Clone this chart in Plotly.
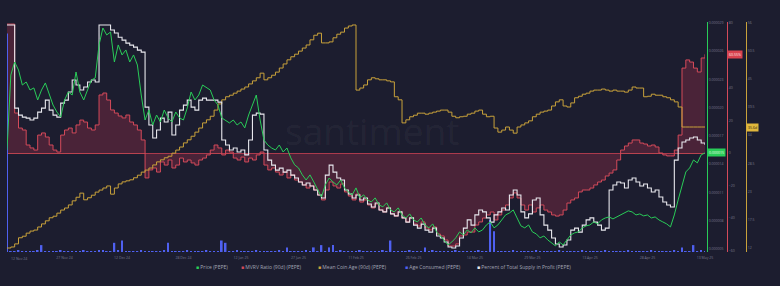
import pandas as pd
import plotly.graph_objects as go

# ---------------- data (daily, 12 Nov 2024 -> 13 May 2025) ----------------
dates = pd.date_range("2024-11-12", periods=183, freq="D")

# Price (PEPE) in micro-USD
price_micro = [
    15.50, 23.45, 24.83, 23.98, 22.39, 22.71, 21.86, 22.08, 20.80, 21.86,
    22.61, 21.33, 20.27, 19.53, 19.00, 20.80, 21.65, 21.33, 23.77, 21.65,
    20.80, 21.86, 22.92, 23.14, 26.64, 28.44, 27.70, 28.01, 24.83, 26.64,
    25.58, 26.11, 24.83, 25.58, 24.51, 21.33, 18.68, 19.74, 18.15, 19.21,
    18.47, 19.74, 18.90, 18.47, 19.53, 18.90, 18.68, 19.96, 21.65, 20.80,
    21.33, 22.39, 22.08, 21.86, 20.80, 20.27, 18.90, 18.68, 18.37, 18.68,
    18.15, 18.47, 17.84, 19.21, 20.27, 21.33, 18.68, 16.56, 16.03, 15.71,
    15.50, 16.03, 15.29, 15.71, 14.66, 13.92, 13.60, 12.86, 12.32, 12.86,
    12.11, 11.26, 10.52, 11.79, 12.53, 12.11, 11.79, 12.32, 11.48, 11.05,
    10.74, 11.48, 10.42, 10.74, 10.20, 9.99, 10.42, 9.68, 9.47, 9.89,
    9.14, 8.93, 9.36, 8.61, 8.29, 8.72, 8.08, 7.87, 8.29, 7.55,
    7.24, 7.66, 6.81, 6.38, 5.96, 5.43, 5.75, 6.18, 6.81, 6.49,
    7.02, 6.71, 7.24, 6.81, 7.02, 7.55, 7.87, 7.24, 7.55, 8.08,
    8.61, 8.82, 9.14, 8.29, 7.45, 7.24, 7.55, 6.81, 6.60, 6.18,
    6.38, 5.96, 5.64, 5.33, 5.75, 5.43, 5.96, 6.49, 6.71, 6.81,
    7.24, 7.45, 7.55, 7.87, 7.66, 8.08, 8.29, 8.40, 8.19, 8.40,
    8.61, 8.82, 9.04, 8.93, 8.61, 8.72, 8.51, 8.61, 8.29, 8.40,
    8.08, 7.87, 7.66, 7.34, 8.61, 10.20, 11.79, 13.17, 13.60, 14.44,
    14.13, 14.98, 15.19,
]

# MVRV Ratio (90d), %
mvrv = [
    79.1, 79.1, 24.5, 15.3, 14.1, 4.9, 3.1, 1.8, 11.0, 12.3,
    9.8, 4.9, 1.8, 0.6, 11.0, 14.1, 15.3, 12.3, 17.2, 20.2,
    19.0, 15.3, 14.1, 17.2, 35.6, 36.8, 32.5, 26.4, 24.5, 22.7,
    21.5, 23.3, 19.0, 17.2, 14.1, 8.0, -15.3, -10.4, -9.2, -11.7,
    -5.5, -7.4, -4.3, -9.2, -7.4, -3.1, -5.5, -4.3, -6.1, -7.4,
    -4.3, -3.1, -1.2, 1.8, 4.9, 3.1, -1.2, 1.8, 0.6, -3.1,
    -4.3, -2.5, -5.5, -3.1, -4.3, -1.2, 0.6, -7.4, -10.4, -9.2,
    -11.7, -13.5, -11.7, -15.3, -13.5, -16.6, -17.8, -19.6, -21.5, -20.2,
    -22.7, -25.8, -28.8, -22.7, -17.8, -20.2, -21.5, -19.0, -23.9, -26.4,
    -28.8, -25.2, -30.1, -28.8, -31.9, -33.7, -31.3, -35.0, -36.2, -33.7,
    -37.4, -38.7, -36.2, -39.9, -42.3, -39.9, -43.6, -44.8, -42.3, -46.0,
    -47.2, -45.4, -49.7, -50.9, -53.4, -57.1, -57.1, -55.8, -50.9, -50.3,
    -48.5, -48.5, -44.2, -42.3, -39.9, -38.0, -36.2, -41.1, -38.0, -35.0,
    -31.9, -27.6, -24.5, -27.6, -31.9, -35.0, -31.9, -36.2, -33.7, -31.9,
    -35.0, -36.2, -38.0, -38.7, -38.0, -35.0, -30.7, -28.8, -27.6, -23.9,
    -22.7, -22.7, -21.5, -19.6, -17.8, -16.6, -14.1, -12.3, -10.4, -4.3,
    1.8, 4.3, 6.1, 8.0, 8.0, 6.1, 5.5, 4.3, 4.9, 3.7,
    0.0, -1.2, -1.8, -1.8, 1.8, 11.0, 52.1, 57.1, 55.8, 52.1,
    49.7, 58.3, 60.55,
]

# Mean Coin Age (90d), days
coin_age = [
    12.0, 12.2, 12.8, 14.0, 14.3, 14.9, 15.3, 15.5, 16.1, 16.7,
    17.3, 17.9, 18.2, 18.8, 19.4, 19.8, 20.4, 21.2, 21.9, 22.7,
    21.4, 21.8, 22.3, 22.9, 23.3, 23.7, 24.1, 22.5, 23.7, 24.5,
    24.9, 25.1, 25.3, 25.7, 26.2, 26.8, 27.2, 27.6, 28.2, 28.8,
    29.2, 29.6, 29.9, 30.5, 31.1, 31.7, 32.5, 33.1, 33.8, 34.6,
    35.4, 36.4, 37.0, 37.7, 38.9, 40.1, 40.9, 41.5, 41.8, 42.2,
    42.6, 43.0, 43.4, 44.0, 44.6, 45.2, 46.1, 44.8, 45.2, 45.7,
    46.3, 47.1, 47.9, 48.7, 49.3, 49.8, 50.4, 51.0, 51.6, 52.6,
    53.5, 53.9, 52.0, 52.0, 52.2, 53.0, 53.7, 54.1, 54.9, 55.3,
    55.5, 42.8, 43.2, 43.8, 44.8, 45.2, 45.0, 44.8, 44.8, 44.6,
    44.4, 41.5, 40.9, 36.4, 37.0, 37.6, 37.9, 38.3, 38.3, 38.1,
    38.3, 38.5, 38.7, 38.9, 38.9, 38.5, 37.7, 37.4, 37.6, 37.7,
    38.1, 38.3, 38.7, 38.9, 38.1, 37.6, 37.7, 35.4, 34.6, 35.0,
    35.6, 35.0, 34.4, 35.6, 36.0, 36.4, 36.8, 37.6, 38.1, 38.5,
    38.7, 38.9, 39.7, 40.5, 40.9, 39.7, 39.5, 40.3, 41.3, 41.6,
    42.0, 42.2, 42.6, 42.8, 42.8, 43.0, 42.8, 42.6, 42.8, 42.6,
    42.6, 42.4, 42.8, 43.4, 43.2, 43.2, 41.5, 41.6, 42.0, 41.8,
    41.8, 41.5, 41.3, 40.9, 40.5, 39.5, 35.6, 35.6, 35.6, 35.6,
    35.6, 35.6, 35.6,
]

# Age Consumed (PEPE), relative units
age_consumed = [
    95, 0.4, 0.4, 0.5, 0.4, 0.4, 0.3, 0.4, 0.5, 3.0,
    0.4, 0.4, 0.3, 0.4, 0.5, 0.4, 0.4, 0.3, 0.4, 0.4,
    0.5, 0.4, 0.4, 0.3, 0.6, 0.5, 0.4, 0.4, 4.0, 0.5,
    5.0, 0.4, 0.4, 0.3, 0.4, 0.5, 0.4, 0.4, 0.3, 0.4,
    0.4, 0.5, 4.0, 0.4, 0.3, 0.4, 0.4, 0.5, 0.4, 0.3,
    0.4, 0.4, 0.5, 0.4, 0.4, 0.3, 5.0, 4.0, 0.4, 0.4,
    0.5, 0.4, 0.3, 0.4, 0.4, 0.5, 0.4, 0.4, 0.3, 0.4,
    0.4, 0.5, 0.4, 2.0, 0.4, 0.3, 0.4, 0.4, 0.5, 0.4,
    2.0, 0.4, 3.0, 0.4, 2.0, 3.0, 0.4, 0.5, 0.4, 0.3,
    0.4, 0.4, 0.5, 0.4, 0.4, 0.3, 0.4, 0.4, 0.5, 0.4,
    5.0, 0.4, 0.3, 0.4, 0.4, 0.5, 0.4, 0.4, 0.3, 2.0,
    0.4, 0.5, 0.4, 0.4, 0.3, 0.4, 0.4, 0.5, 0.4, 0.4,
    0.3, 0.4, 0.4, 0.5, 0.4, 0.4, 14.0, 9.0, 0.4, 0.3,
    0.4, 0.4, 0.5, 0.4, 0.4, 0.3, 0.4, 0.4, 0.5, 0.4,
    0.4, 0.3, 0.4, 0.4, 0.5, 0.4, 0.4, 0.3, 0.4, 0.4,
    0.5, 0.4, 0.4, 0.3, 0.4, 0.4, 0.5, 0.4, 0.4, 0.3,
    0.4, 0.4, 0.5, 0.4, 0.4, 0.3, 0.4, 0.4, 0.5, 0.4,
    0.4, 0.3, 0.4, 0.4, 0.5, 0.4, 2.0, 0.4, 0.4, 3.0,
    0.4, 0.5, 0.4,
]

# Percent of Total Supply in Profit, %
supply_profit = [
    91.2, 91.2, 57.8, 55.0, 54.2, 53.8, 53.0, 53.8, 56.2, 57.8,
    61.0, 57.0, 55.0, 54.2, 59.8, 61.0, 64.3, 69.1, 67.1, 65.1,
    66.3, 68.3, 69.1, 68.3, 91.2, 91.2, 91.2, 89.2, 88.0, 86.3,
    85.1, 83.9, 83.1, 82.3, 81.1, 80.3, 58.2, 51.0, 45.8, 49.0,
    53.8, 52.2, 56.2, 47.0, 51.0, 57.0, 59.0, 61.0, 58.2, 57.0,
    61.0, 61.8, 61.0, 61.0, 61.0, 60.2, 45.0, 43.0, 41.0, 41.8,
    40.2, 41.0, 39.0, 45.0, 55.0, 55.8, 55.4, 41.0, 36.9, 34.9,
    32.9, 33.7, 32.1, 32.9, 30.9, 29.7, 28.1, 26.9, 27.7, 26.5,
    24.9, 22.9, 21.7, 30.9, 34.9, 32.1, 29.7, 28.9, 24.9, 23.3,
    21.7, 22.9, 20.9, 21.7, 19.3, 18.1, 19.7, 16.9, 16.1, 17.7,
    15.3, 14.5, 16.1, 13.7, 12.0, 13.7, 10.8, 9.6, 11.2, 8.8,
    8.0, 9.6, 6.4, 5.6, 4.0, 2.0, 1.6, 2.4, 5.6, 9.6,
    12.9, 10.8, 14.9, 16.9, 16.1, 13.7, 12.0, 14.9, 16.1, 17.7,
    16.9, 22.9, 24.9, 22.9, 16.1, 13.7, 15.3, 20.9, 21.7, 14.9,
    10.8, 8.8, 5.6, 3.2, 2.0, 2.8, 4.8, 8.8, 9.6, 8.0,
    10.8, 12.9, 13.7, 12.0, 10.8, 8.8, 9.6, 24.9, 26.9, 28.1,
    27.7, 25.7, 28.9, 29.7, 28.1, 26.5, 27.3, 25.7, 24.1, 24.9,
    22.1, 20.1, 18.9, 18.1, 36.9, 41.8, 44.2, 45.0, 45.8, 46.2,
    45.0, 43.8, 43.0,
]

x_tick_dates = ["2024-11-12", "2024-11-27", "2024-12-12", "2024-12-28", "2025-01-12",
                "2025-01-27", "2025-02-11", "2025-02-26", "2025-03-14", "2025-03-29",
                "2025-04-13", "2025-04-28", "2025-05-13"]
x_tick_text = ["12 Nov 24", "27 Nov 24", "12 Dec 24", "28 Dec 24", "12 Jan 25",
               "27 Jan 25", "11 Feb 25", "26 Feb 25", "14 Mar 25", "29 Mar 25",
               "13 Apr 25", "28 Apr 25", "13 May 25"]

price_ticks = [5e-6, 8e-6, 11e-6, 14e-6, 17e-6, 20e-6, 23e-6, 26e-6, 29e-6]
# the 60% tick sits under the current-value marker in the reference, so it is not labelled
mvrv_ticks = [-60, -40, -20, 0, 20, 40, 80]
age_ticks = [12, 17.5, 23, 28.5, 34, 39.5, 45, 50.5, 56]

price = [v * 1e-6 for v in price_micro]

# ---------------- style ----------------
BG = "#1c1d2f"
GREEN = "#29cc58"
RED = "#d44a5a"
YELLOW = "#c9a23b"
BLUE = "#4f60f0"
WHITE = "#e8e8ee"
TICK = "#777a8d"
FONT = "Open Sans"

W, H = 780, 286
ML, MR, MT, MB = 7, 0, 22, 34
PW = W - ML - MR
PH = H - MT - MB

def px(x):
    return (x - ML) / PW

def py(y):
    return (H - MB - y) / PH

X_END = px(705)
POS_GREEN = px(707)
POS_RED = px(727)
POS_YELLOW = px(746)

fig = go.Figure()

fig.add_trace(go.Scatter(
    x=dates, y=mvrv, yaxis="y", mode="lines", line=dict(color=RED, width=1, shape="hv"),
    fill="tozeroy", fillcolor="rgba(150,45,70,0.38)", name="MVRV Ratio (90d) (PEPE)",
    showlegend=False, hoverinfo="skip"))
fig.add_trace(go.Bar(
    x=dates, y=age_consumed, yaxis="y2", marker=dict(color=BLUE, line=dict(width=0)),
    width=0.45 * 86400000, name="Age Consumed (PEPE)", showlegend=False, hoverinfo="skip"))
fig.add_trace(go.Scatter(
    x=dates, y=coin_age, yaxis="y3", mode="lines", line=dict(color=YELLOW, width=1, shape="hv"),
    name="Mean Coin Age (90d) (PEPE)", showlegend=False, hoverinfo="skip"))
fig.add_trace(go.Scatter(
    x=dates, y=supply_profit, yaxis="y4", mode="lines", line=dict(color=WHITE, width=1.1, shape="hv"),
    name="Percent of Total Supply in Profit (PEPE)", showlegend=False, hoverinfo="skip"))
fig.add_trace(go.Scatter(
    x=dates, y=price, yaxis="y5", mode="lines", line=dict(color=GREEN, width=1),
    name="Price (PEPE)", showlegend=False, hoverinfo="skip"))

tickfont = dict(family=FONT, size=3.5, color=TICK)

fig.update_layout(
    width=W, height=H, autosize=False,
    margin=dict(l=ML, r=MR, t=MT, b=MB, autoexpand=False),
    paper_bgcolor=BG, plot_bgcolor=BG,
    font=dict(family=FONT, color=TICK),
    showlegend=False,
    xaxis=dict(
        type="date", domain=[0, X_END], range=["2024-11-12", "2025-05-13"],
        showgrid=False, zeroline=False, showline=False, automargin=False,
        tickmode="array", tickvals=x_tick_dates[1:], ticktext=x_tick_text[1:],
        tickfont=tickfont, ticks="", ticklabelstandoff=2),
    yaxis=dict(
        domain=[0, 1], range=[-60.74, 80.37], side="right", anchor="free", position=POS_RED,
        showline=True, linecolor=RED, linewidth=1, showgrid=False, automargin=False,
        zeroline=True, zerolinecolor="#b9434f", zerolinewidth=1,
        tickmode="array", tickvals=mvrv_ticks, ticksuffix="%", tickfont=tickfont, ticks=""),
    yaxis2=dict(overlaying="y", range=[0, 100], visible=False, automargin=False),
    yaxis3=dict(
        overlaying="y", range=[11.22, 56.08], side="right", anchor="free", position=POS_YELLOW,
        showline=True, linecolor=YELLOW, linewidth=1, showgrid=False, zeroline=False, automargin=False,
        tickmode="array", tickvals=age_ticks, ticksuffix="d", tickfont=tickfont, ticks=""),
    yaxis4=dict(overlaying="y", range=[0, 92.4], visible=False, automargin=False),
    yaxis5=dict(
        overlaying="y", range=[4.68e-6, 29.074e-6], side="right", anchor="free", position=POS_GREEN,
        showline=True, linecolor=GREEN, linewidth=1, showgrid=False, zeroline=False, automargin=False,
        tickmode="array", tickvals=price_ticks, tickformat=".6f", tickfont=tickfont, ticks=""),
)

# first date label sits at the left edge: drawn left-aligned at its tick so it stays on the page
fig.add_annotation(
    text=x_tick_text[0], xref="x", x=x_tick_dates[0], yref="paper", y=0,
    xanchor="left", yanchor="top", xshift=2, yshift=-1.5, showarrow=False,
    font=tickfont)

# watermark
fig.add_annotation(
    text="santiment", xref="paper", yref="paper", x=px(372), y=py(130),
    showarrow=False, font=dict(family=FONT, size=37, color="rgba(255,255,255,0.05)"))

# current-value labels
fig.add_annotation(
    text=f"{price[-1]:.6f}", xref="paper", yref="y5", x=POS_GREEN, y=price[-1],
    xanchor="left", showarrow=False, bgcolor=GREEN, borderpad=1,
    font=dict(family=FONT, size=3.5, color="#e9ffe9"))
fig.add_annotation(
    text=f"{mvrv[-1]:.2f}%", xref="paper", yref="y", x=POS_RED, y=mvrv[-1],
    xanchor="left", showarrow=False, bgcolor="#d8424f", borderpad=1,
    font=dict(family=FONT, size=3.5, color="#ffe9ea"))
fig.add_annotation(
    text=f"{coin_age[-1]:.1f}d", xref="paper", yref="y3", x=POS_YELLOW, y=coin_age[-1],
    xanchor="left", showarrow=False, bgcolor="#e0b73c", borderpad=1,
    font=dict(family=FONT, size=3.5, color="#2a2410"))

# legend (drawn as text)
legend_items = [
    ("Price (PEPE)", GREEN, 194),
    ("MVRV Ratio (90d) (PEPE)", RED, 239),
    ("Mean Coin Age (90d) (PEPE)", YELLOW, 316),
    ("Age Consumed (PEPE)", BLUE, 403),
    ("Percent of Total Supply in Profit (PEPE)", WHITE, 475),
]
for label, color, xpix in legend_items:
    fig.add_annotation(
        text=f'<span style="color:{color}">■</span> {label}',
        xref="paper", yref="paper", x=px(xpix), y=py(267), xanchor="left", yanchor="middle",
        showarrow=False, font=dict(family=FONT, size=5, color="#a3a6b5"))

fig.write_html("out.html")
